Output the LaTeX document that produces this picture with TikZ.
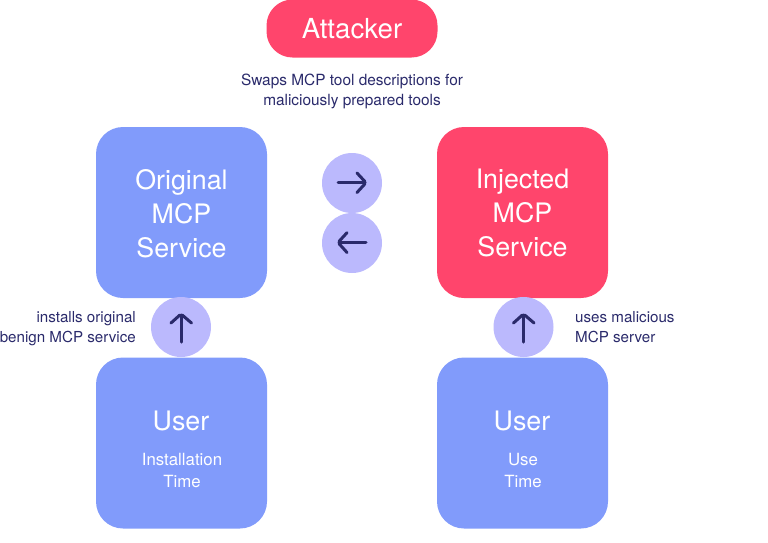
\documentclass[tikz,border=0pt]{standalone}
\usepackage{fontspec}
\setmainfont{TeX Gyre Heros}
\definecolor{bluebox}{HTML}{819BFB}
\definecolor{redbox}{HTML}{FF456C}
\definecolor{circ}{HTML}{BBB9FD}
\definecolor{ink}{HTML}{2A2A6B}
\tikzset{
  x=1pt,y=-1pt,
  box/.style={rectangle,rounded corners=27pt,minimum width=171pt,minimum height=171pt,inner sep=0pt,text=white,align=center,font=\fontsize{26.8}{34}\selectfont},
  sub/.style={text=white,align=center,font=\fontsize{16.8}{22}\selectfont},
  disc/.style={circle,fill=circ,minimum size=60pt,inner sep=0pt},
  lab/.style={text=ink,inner sep=0pt,font=\fontsize{15.4}{20}\selectfont},
  sidelab/.style={lab,font=\fontsize{15.15}{20}\selectfont},
  glyph/.style={draw=ink,line width=3pt,line cap=round,line join=round},
  wing/.style={glyph,rounded corners=2pt}
}
\begin{document}
\begin{tikzpicture}
\useasboundingbox (0,0) rectangle (768,542);
\node[box,fill=redbox,minimum width=171pt,minimum height=58pt,rounded corners=26pt,font=\fontsize{27.6}{34}\selectfont] (attacker) at (352,28.5) {Attacker};
\node[lab,align=center] (swap) at (352,91.6) {Swaps MCP tool descriptions for\\maliciously prepared tools};
\node[box,fill=bluebox] (orig) at (181.5,212.5) {};
\node[box,fill=redbox] (inj) at (522.5,212.5) {};
\node[box,fill=none] (origtext) at (181.5,213.4) {Original\\MCP\\Service};
\node[box,fill=none] (injtext) at (522.5,213.4) {Injected\\MCP\\Service};
\node[box,fill=bluebox] (user1) at (181.5,443) {};
\node[box,fill=bluebox] (user2) at (522.5,443) {};
\node[text=white,font=\fontsize{26.8}{34}\selectfont] (u1) at (181,420.5) {User};
\node[text=white,font=\fontsize{26.8}{34}\selectfont] (u2) at (522,420.5) {User};
\node[sub] (t1) at (182,470.8) {Installation\\Time};
\node[sub] (t2) at (523,470.8) {Use\\Time};
\node[disc] (c1) at (352,183) {};
\node[disc] (c2) at (352,243) {};
\node[disc] (c3) at (181,327) {};
\node[disc] (c4) at (523.5,327) {};
\draw[glyph] (338,182.7) -- (365,182.7);
\draw[wing] (357,173) -- (366,182.7) -- (357,192.5);
\draw[glyph] (366,242.5) -- (339,242.5);
\draw[wing] (347,232.7) -- (338,242.5) -- (347,252.5);
\draw[glyph] (181,342) -- (181,315);
\draw[wing] (171,323) -- (181,314) -- (191.5,323);
\draw[glyph] (523.5,342) -- (523.5,315);
\draw[wing] (513.5,323) -- (523.5,314) -- (534,323);
\node[sidelab,align=right,anchor=east] (l1) at (136,328.6) {installs original\\benign MCP service};
\node[sidelab,align=left,anchor=west] (l2) at (575,327) {uses malicious\\MCP server};
\end{tikzpicture}
\end{document}
